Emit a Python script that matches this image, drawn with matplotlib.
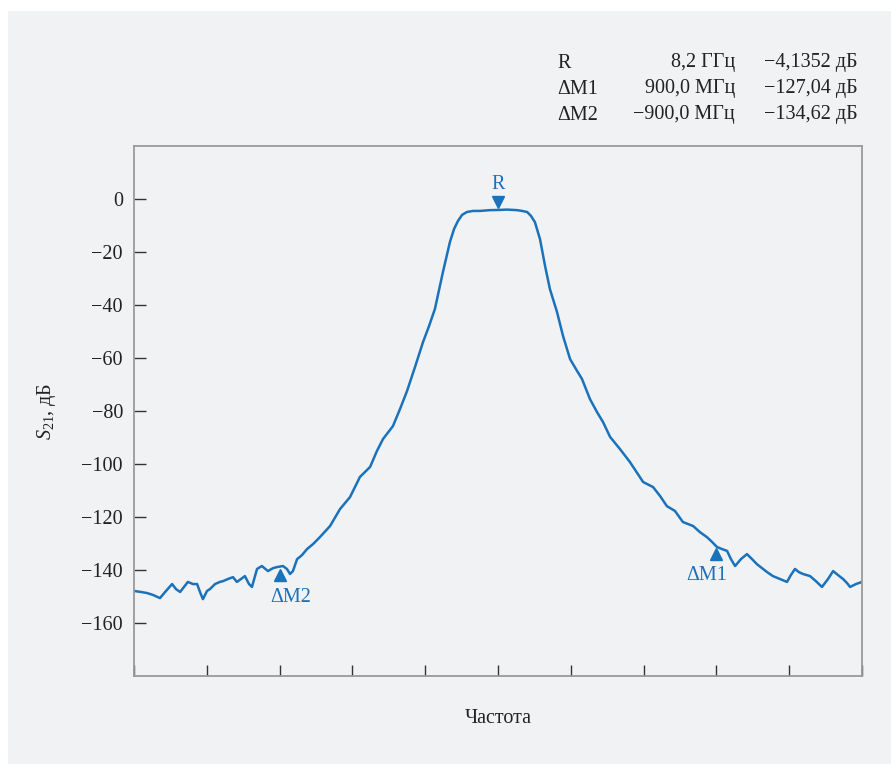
import matplotlib
matplotlib.use("Agg")
import matplotlib.pyplot as plt
from matplotlib.patches import Rectangle
from matplotlib.transforms import ScaledTranslation

# Frequency offset from 8.2 GHz centre (MHz) and S21 (dB)
freq_mhz = [-1500, -1471, -1446, -1422, -1393, -1368, -1343, -1327, -1310, -1294,
            -1278, -1257, -1240, -1228, -1216, -1199, -1187, -1166, -1146, -1133,
            -1113, -1092, -1076, -1059, -1043, -1026, -1014, -993, -973, -948,
            -927, -911, -886, -870, -857, -845, -828, -808, -787, -762,
            -734, -692, -651, -610, -569, -527, -499, -474, -433, -404,
            -375, -342, -309, -284, -260, -227, -198, -181, -165, -148,
            -128, -103, -74, -33, 0, 37, 78, 99, 120, 136,
            152, 173, 194, 214, 243, 268, 297, 326, 346, 379,
            408, 433, 462, 503, 544, 598, 639, 668, 696, 729,
            762, 804, 832, 861, 882, 902, 923, 944, 960, 977,
            1001, 1026, 1047, 1067, 1088, 1109, 1133, 1162, 1191, 1207,
            1224, 1240, 1257, 1286, 1310, 1335, 1360, 1381, 1401, 1422,
            1438, 1451, 1475, 1500]
s21_db = [-147.9, -148.3, -148.7, -149.4, -150.6, -147.9, -145.3, -147.2, -148.3, -146.4,
          -144.5, -145.3, -145.3, -148.3, -151.0, -147.9, -147.2, -145.3, -144.5, -144.2,
          -143.4, -142.7, -144.5, -143.4, -142.3, -145.3, -146.4, -139.6, -138.5, -140.4,
          -139.3, -138.9, -138.5, -139.6, -141.5, -140.4, -135.9, -134.4, -132.1, -130.2,
          -127.6, -123.4, -117.0, -112.5, -104.9, -101.1, -95.1, -90.6, -85.7, -79.3,
          -72.5, -63.4, -54.0, -47.9, -41.5, -27.6, -16.2, -11.3, -8.3, -6.0,
          -4.9, -4.5, -4.5, -4.2, -4.14, -4.0, -4.2, -4.5, -4.9, -6.4,
          -8.7, -15.1, -25.3, -34.0, -42.6, -51.7, -60.4, -64.9, -67.9, -75.5,
          -80.4, -84.2, -89.8, -94.4, -99.3, -106.8, -108.7, -112.1, -115.9, -117.7,
          -121.9, -123.4, -125.7, -127.6, -129.4, -131.3, -132.1, -132.8, -135.9, -138.5,
          -135.9, -134.0, -135.9, -137.8, -139.3, -140.8, -142.3, -143.4, -144.5, -141.9,
          -139.6, -140.8, -141.5, -142.3, -144.2, -146.4, -143.4, -140.4, -141.9, -143.4,
          -144.9, -146.4, -145.3, -144.5]

# Markers
marker_names = ["R", "ΔM1", "ΔM2"]
marker_freq = [0, 900, -900]
marker_level = [-4.1352, -131.18, -138.75]
table_rows = [["R", "8,2 ГГц", "−4,1352 дБ"],
              ["ΔM1", "900,0 МГц", "−127,04 дБ"],
              ["ΔM2", "−900,0 МГц", "−134,62 дБ"]]

y_ticks = [0, -20, -40, -60, -80, -100, -120, -140, -160]
x_ticks = [-1500, -1200, -900, -600, -300, 0, 300, 600, 900, 1200, 1500]

BLUE = "#1a72bb"
BG = "#f1f2f4"
TXT = "#222222"
FS = 14.5
plt.rcParams["font.family"] = ["Liberation Serif", "DejaVu Serif"]
plt.rcParams["mathtext.fontset"] = "custom"
plt.rcParams["mathtext.it"] = "Liberation Serif:italic"
plt.rcParams["mathtext.rm"] = "Liberation Serif"

W, H = 891, 764
fig = plt.figure(figsize=(W / 100, H / 100), dpi=100)
fig.patch.set_facecolor("white")
fig.patches.append(Rectangle((8 / W, 0), 1 - 8 / W, 1 - 11 / H,
                             transform=fig.transFigure, facecolor=BG,
                             edgecolor="none", zorder=-10))

ax = fig.add_axes([134 / W, 1 - 676 / H, (862 - 134) / W, (676 - 146) / H])
ax.set_facecolor("none")
ax.plot(freq_mhz, s21_db, color=BLUE, lw=1.8, solid_joinstyle="round")

ax.set_xlim(-1500, 1500)
ax.set_ylim(-180, 20)
ax.set_yticks(y_ticks)
ax.set_yticklabels([f"{v}".replace("-", "−") for v in y_ticks])
ax.set_xticks(x_ticks)
ax.set_xticklabels([])
ax.tick_params(axis="both", direction="in", color="#333333", width=1.0,
               labelsize=FS, labelcolor=TXT)
ax.tick_params(axis="y", length=8.5, pad=8)
ax.tick_params(axis="x", length=8)
for s in ax.spines.values():
    s.set_color("#9a9a9a")
    s.set_linewidth(1.3)

ax.set_xlabel("Частота", fontsize=FS, color=TXT, labelpad=20)
ax.set_ylabel(r"$S_{21}$, дБ", fontsize=FS, color=TXT, labelpad=17)

# marker triangles and labels: (triangle dy, marker, text dx, text dy) in points
offsets = {"R": (6, "v", 0, 18), "ΔM1": (-5, "^", -7, -21), "ΔM2": (-6, "^", 8, -22)}
for name, fx, lv in zip(marker_names, marker_freq, marker_level):
    dy, mk, tx, ty = offsets[name]
    ax.plot([fx], [lv], marker=mk, color=BLUE, markersize=8, ls="none",
            transform=ax.transData + ScaledTranslation(0, dy / 72, fig.dpi_scale_trans))
    ax.annotate(name, xy=(fx, lv), xytext=(tx, ty), textcoords="offset points",
                ha="center", va="center", fontsize=FS, color=BLUE)

# marker table top right
row_y = [63, 89, 115]
for (a, b, c), yy in zip(table_rows, row_y):
    fy = 1 - yy / H
    fig.text(557 / W, fy, a, ha="left", va="center", fontsize=FS, color=TXT)
    fig.text(735 / W, fy, b, ha="right", va="center", fontsize=FS, color=TXT)
    fig.text(858 / W, fy, c, ha="right", va="center", fontsize=FS, color=TXT)

fig.savefig("out.png", dpi=100, facecolor=fig.get_facecolor())
